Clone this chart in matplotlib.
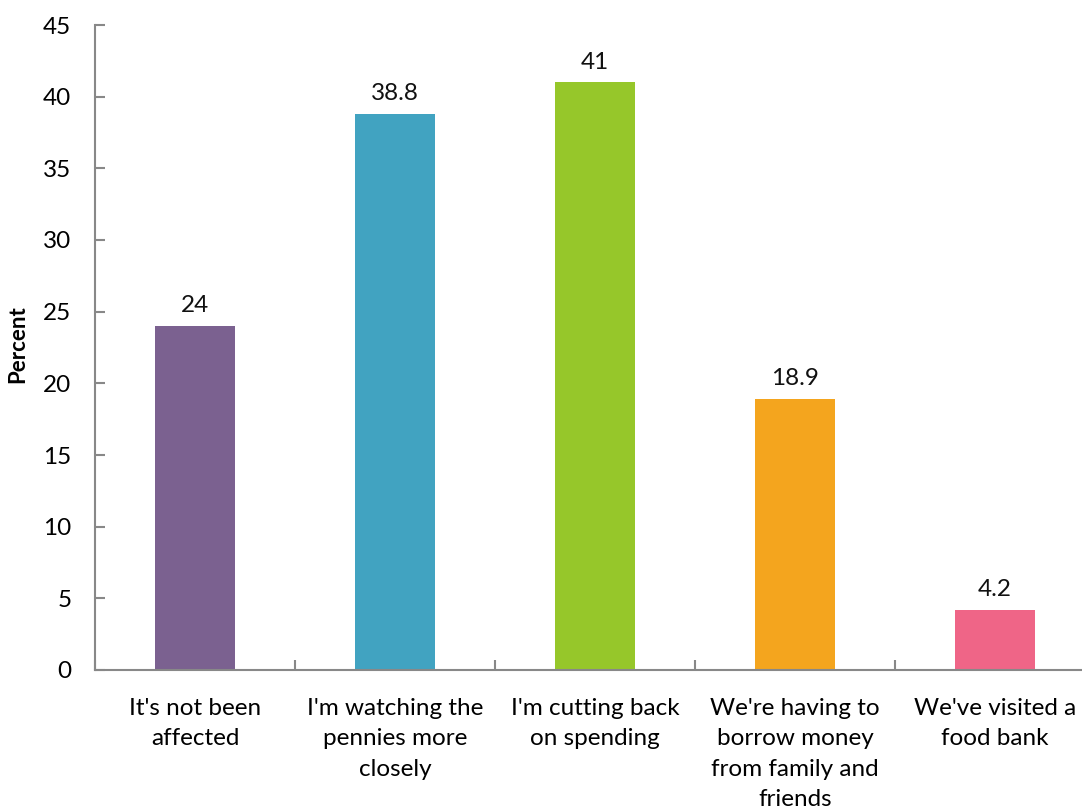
import matplotlib
matplotlib.use("Agg")
import matplotlib.pyplot as plt

categories = ["It's not been\naffected",
              "I'm watching the\npennies more\nclosely",
              "I'm cutting back\non spending",
              "We're having to\nborrow money\nfrom family and\nfriends",
              "We've visited a\nfood bank"]
values = [24, 38.8, 41, 18.9, 4.2]
value_labels = ["24", "38.8", "41", "18.9", "4.2"]
colors = ["#7B6190", "#41A3C1", "#96C72A", "#F4A51E", "#EF6587"]

plt.rcParams['font.family'] = ['Lato', 'DejaVu Sans']
fs = 17.5

fig = plt.figure(figsize=(10.82, 8.11), dpi=100)
# plot area runs a little past the right edge of the picture
ax = fig.add_axes([95 / 1082, 141 / 811, 1000 / 1082, 645 / 811])

x = range(len(values))
ax.bar(x, values, width=0.4, color=colors)
for xi, v, lab in zip(x, values, value_labels):
    ax.annotate(lab, (xi, v), xytext=(0, 7), textcoords="offset points",
                ha="center", va="bottom", fontsize=fs, color="#111111")

ax.set_xlim(-0.5, len(values) - 0.5)
ax.set_ylim(0, 45)
ax.set_yticks(range(0, 46, 5))
ax.set_xticks([i + 0.5 for i in range(-1, len(values))])
ax.set_xticklabels([])
ax.set_xticks(list(x), minor=True)
ax.set_xticklabels(categories, minor=True, fontsize=fs, linespacing=1.56, va="top")
ax.tick_params(axis="x", which="minor", length=0, pad=20)
ax.tick_params(axis="x", which="major", direction="in", length=7, color="#888888", width=1.5)
ax.tick_params(axis="y", direction="in", length=7, color="#888888", width=1.5,
               labelsize=fs, pad=17)

for s in ["top", "right"]:
    ax.spines[s].set_visible(False)
for s in ["left", "bottom"]:
    ax.spines[s].set_color("#888888")
    ax.spines[s].set_linewidth(1.5)

ax.set_ylabel("Percent", fontsize=16, fontweight="bold")
ax.yaxis.set_label_coords(-67 / 1000, 0.505)

fig.savefig("out.png", dpi=100)
